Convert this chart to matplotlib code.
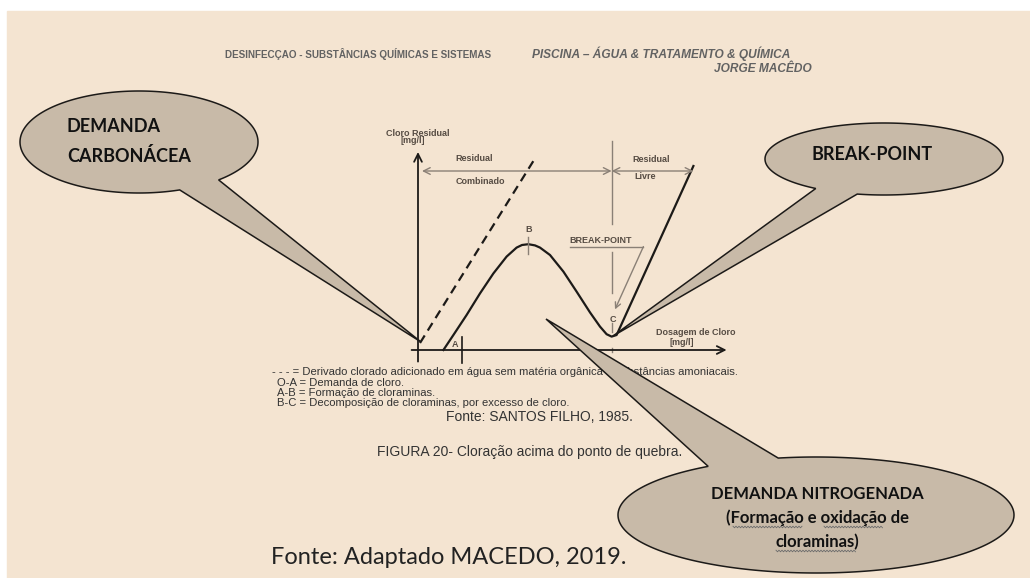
import numpy as np
import matplotlib
matplotlib.use('Agg')
import matplotlib.pyplot as plt
from matplotlib.patches import Polygon, Rectangle

# curva de cloro residual x dosagem de cloro (unidades arbitrarias)
dosagem = [1.27, 1.77, 2.43, 3.10, 3.77, 4.43, 4.93, 5.20, 5.52, 5.85, 6.10, 6.60, 7.27, 7.93, 8.60, 9.10, 9.43, 9.68, 9.93, 13.77]
residual = [0.00, 0.75, 1.75, 2.83, 3.83, 4.67, 5.12, 5.25, 5.29, 5.23, 5.12, 4.75, 3.92, 2.92, 1.88, 1.17, 0.79, 0.67, 0.75, 9.20]

# linha tracejada: derivado clorado em agua sem materia organica
dosagem_trac = [0.10, 5.80]
residual_trac = [0.35, 9.50]

# pontos A, B, C e limites das faixas de residual
pontos = ['A', 'B', 'C']
dose_pontos = [2.18, 5.52, 9.68]
inicio_combinado = 0.2
fim_livre = 13.77
nivel_faixa = 8.95

legenda = ['- - - = Derivado clorado adicionado em água sem matéria orgânica e substâncias amoniacais.',
           'O-A = Demanda de cloro.',
           'A-B = Formação de cloraminas.',
           'B-C = Decomposição de cloraminas, por excesso de cloro.']

BG = '#F4E4D1'
FILL = '#C8BAA8'
TXT = '#564c43'
GRIS = '#8a8076'
ESCURO = '#1c1a18'
SANS = ['Liberation Sans', 'DejaVu Sans']
NARROW = ['Liberation Sans Narrow', 'Liberation Sans', 'DejaVu Sans']

fig = plt.figure(figsize=(10.3, 5.78), dpi=100)
fig.patch.set_facecolor('white')

# fundo e textos (pixels)
bg = fig.add_axes([0, 0, 1, 1], zorder=0)
bg.set_xlim(0, 1030)
bg.set_ylim(578, 0)
bg.axis('off')
bg.add_patch(Rectangle((7, 11), 1030, 578, color=BG, zorder=0))

bg.text(358, 54, 'DESINFECÇAO - SUBSTÂNCIAS QUÍMICAS E SISTEMAS', ha='center', va='center',
        fontsize=7.1, fontweight='bold', color='#626262', family=NARROW)
bg.text(532, 54, 'PISCINA – ÁGUA & TRATAMENTO & QUÍMICA', ha='left', va='center',
        fontsize=8.6, fontweight='bold', style='italic', color='#626262', family=NARROW)
bg.text(812, 69, 'JORGE MACÊDO', ha='right', va='center',
        fontsize=8.6, fontweight='bold', style='italic', color='#626262', family=NARROW)

bg.text(272, 372, legenda[0], ha='left', va='center', fontsize=8.1, color='#333333', family=SANS)
for i, linha in enumerate(legenda[1:]):
    bg.text(277, 382.5 + i * 10.5, linha, ha='left', va='center', fontsize=8.1, color='#333333', family=SANS)
bg.text(539, 417, 'Fonte: SANTOS FILHO, 1985.', ha='center', va='center', fontsize=10, color='#333333', family=SANS)
bg.text(530, 452, 'FIGURA 20- Cloração acima do ponto de quebra.', ha='center', va='center',
        fontsize=10, color='#333333', family=SANS)
bg.text(271, 558, 'Fonte: Adaptado MACEDO, 2019.', ha='left', va='center', fontsize=17,
        color='#222222', family=['Lato', 'DejaVu Sans'])

# diagrama (20 px por unidade, origem em 418, 350)
ax = fig.add_axes([400 / 1030, (578 - 372) / 578, 360 / 1030, 252 / 578], zorder=1)
ax.set_xlim(-0.9, 17.1)
ax.set_ylim(-1.1, 11.5)
ax.axis('off')
ax.patch.set_alpha(0)

ax.annotate('', xy=(15.43, 0), xytext=(-0.32, 0),
            arrowprops=dict(arrowstyle='->', lw=1.3, color=ESCURO, mutation_scale=14, shrinkA=0, shrinkB=0))
ax.annotate('', xy=(0, 9.9), xytext=(0, -0.58),
            arrowprops=dict(arrowstyle='->', lw=1.3, color=ESCURO, mutation_scale=14, shrinkA=0, shrinkB=0))

ax.plot(dosagem, residual, color=ESCURO, lw=1.6, solid_joinstyle='round')
ax.plot(dosagem_trac, residual_trac, color=ESCURO, lw=1.6, linestyle=(0, (4, 2.6)))

# faixas residual combinado / livre
bp = dose_pontos[2]
ax.annotate('', xy=(inicio_combinado, nivel_faixa), xytext=(bp, nivel_faixa),
            arrowprops=dict(arrowstyle='<->', lw=1, color=GRIS, mutation_scale=12, shrinkA=0, shrinkB=0))
ax.annotate('', xy=(bp, nivel_faixa), xytext=(fim_livre, nivel_faixa),
            arrowprops=dict(arrowstyle='<->', lw=1, color=GRIS, mutation_scale=12, shrinkA=0, shrinkB=0))
for y0, y1 in [(10.45, 6.3), (4.9, 2.85), (1.35, 0.9), (0.12, -0.12)]:
    ax.plot([bp, bp], [y0, y1], color=GRIS, lw=1)

# marcas A e B
ax.plot([dose_pontos[0]] * 2, [0.65, -0.65], color=ESCURO, lw=1.2)
ax.plot([dose_pontos[1]] * 2, [5.67, 4.79], color=GRIS, lw=1)

lab = dict(fontsize=6.5, fontweight='bold', color=TXT, family=SANS, ha='center', va='center')
ax.text(1.85, 0.28, 'A', **lab)
ax.text(5.52, 6.0, 'B', **lab)
ax.text(9.73, 1.53, 'C', **lab)
ax.text(9.15, 5.47, 'BREAK-POINT', **lab)
ax.plot([7.6, 11.27], [5.17, 5.17], color=GRIS, lw=1)
ax.annotate('', xy=(9.85, 2.03), xytext=(11.27, 5.17),
            arrowprops=dict(arrowstyle='->', lw=1, color=GRIS, mutation_scale=10, shrinkA=0, shrinkB=0))
ax.text(0, 10.83, 'Cloro Residual', **lab)
ax.text(-0.25, 10.47, '[mg/l]', **lab)
ax.text(13.9, 0.88, 'Dosagem de Cloro', **lab)
ax.text(13.2, 0.38, '[mg/l]', **lab)
ax.text(2.8, 9.57, 'Residual', **lab)
ax.text(3.1, 8.42, 'Combinado', **lab)
ax.text(11.67, 9.5, 'Residual', **lab)
ax.text(11.35, 8.67, 'Livre', **lab)

# baloes (pixels)
top = fig.add_axes([0, 0, 1, 1], zorder=2)
top.set_xlim(0, 1030)
top.set_ylim(578, 0)
top.axis('off')
top.patch.set_alpha(0)


def balao(cx, cy, a, b, t1, t2, ponta):
    ang = np.radians(np.linspace(t2, t1 + 360, 240))
    xs = np.append(cx + a * np.cos(ang), ponta[0])
    ys = np.append(cy + b * np.sin(ang), ponta[1])
    top.add_patch(Polygon(np.column_stack([xs, ys]), closed=True, facecolor=FILL,
                          edgecolor=ESCURO, lw=1.1, joinstyle='miter'))


def ondulado(x0, x1, y):
    # sublinhado ondulado do corretor ortografico
    xs = np.arange(x0, x1, 1.5)
    ys = y + np.where(np.arange(len(xs)) % 2 == 0, -0.8, 0.8)
    top.plot(xs, ys, color='#6b6b6b', lw=0.6)


balao(139, 142, 119, 51, 48, 70, (421, 342))
balao(884, 159, 119, 36, 103, 125, (613, 336))
balao(816, 515, 198, 58, -123, -101, (546, 319))

cal = dict(fontweight='bold', color='#111111', family=['Lato', 'DejaVu Sans'])
top.text(67, 127, 'DEMANDA', ha='left', va='center', fontsize=13, **cal)
top.text(67, 156.5, 'CARBONÁCEA', ha='left', va='center', fontsize=13, **cal)
top.text(872, 154, 'BREAK-POINT', ha='center', va='center', fontsize=13, **cal)
top.text(817, 494, 'DEMANDA NITROGENADA', ha='center', va='center', fontsize=12, **cal)
top.text(817, 518, '(Formação e oxidação de', ha='center', va='center', fontsize=12, **cal)
top.text(817, 542, 'cloraminas)', ha='center', va='center', fontsize=12, **cal)
ondulado(733, 803, 527)
ondulado(824, 883, 527)
ondulado(776, 857, 551)

fig.savefig('out.png', dpi=100, facecolor=fig.get_facecolor())
